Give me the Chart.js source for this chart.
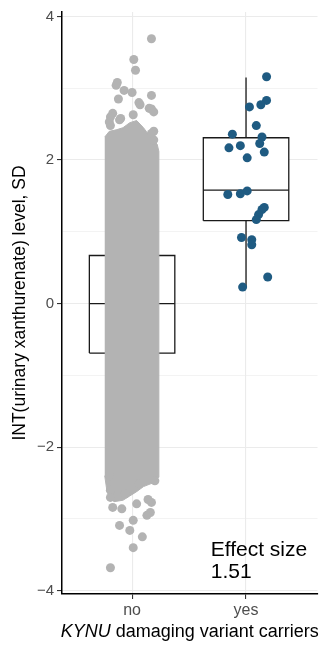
<!DOCTYPE html>
<html>
<head>
<meta charset="utf-8">
<script src="https://cdn.jsdelivr.net/npm/chart.js@4.4.1/dist/chart.umd.min.js"></script>
<style>
  html, body { margin: 0; padding: 0; background: #fff; }
  #wrap { width: 322px; height: 645px; }
</style>
</head>
<body>
<div id="wrap"><canvas id="chart" width="322" height="645"></canvas></div>
<script>
const groups = ['no', 'yes'];
const yTicks = [-4, -3, -2, -1, 0, 1, 2, 3, 4];

// box stats, one entry per group
const q1 = [-0.69, 1.155];
const medians = [0.0, 1.58];
const q3 = [0.67, 2.31];
const whiskerLow = [-2.55, 0.23];
const whiskerHigh = [2.50, 3.15];

// carriers: value + horizontal jitter
const yesValues = [3.16, 2.83, 2.77, 2.74, 2.48, 2.36, 2.32, 2.23, 2.17, 2.20, 2.11, 2.03,
  1.52, 1.53, 1.57, 1.34, 1.31, 1.24, 1.17, 0.92, 0.89, 0.82, 0.37, 0.23];
const yesJitter = [0.18, 0.18, 0.13, 0.03, 0.09, -0.12, 0.14, 0.12, -0.15, -0.05, 0.16, 0.01,
  -0.16, -0.05, 0.01, 0.16, 0.14, 0.11, 0.09, -0.04, 0.05, 0.05, 0.19, -0.03];

// non carriers: the loose points above and below the dense cloud
const noValues = [3.69, 3.40, 3.25, 3.08, 3.04, 2.97, 2.94, 2.90, 2.85, 2.80, 2.77, 2.72,
  2.71, 2.67, 2.65, 2.63, 2.60, 2.58, 2.56, 2.53, 2.48, 2.40, 2.37, 2.28,
  -2.40, -2.47, -2.51, -2.60, -2.65, -2.70, -2.73, -2.77, -2.79, -2.84, -2.86, -2.91,
  -2.95, -3.02, -3.09, -3.16, -3.25, -3.40, -3.68];
const noJitter = [0.17, 0.015, 0.03, -0.13, -0.14, -0.07, 0.0, 0.17, -0.12, 0.06, 0.07, 0.15,
  0.17, 0.19, -0.17, 0.01, -0.19, -0.10, -0.11, -0.20, -0.19, 0.19, 0.17, 0.19,
  -0.20, 0.20, 0.06, -0.19, -0.06, -0.19, 0.14, 0.17, 0.04, -0.17, -0.09, 0.16,
  0.13, 0.01, -0.11, -0.02, 0.09, 0.01, -0.19];

// outline of the solid part of the "no" cloud
const cloudJitter = [-0.24, -0.22, -0.16, -0.08, -0.02, 0.04, 0.10, 0.18, 0.235, 0.235, 0.22,
  0.17, 0.10, 0.04, -0.02, -0.08, -0.14, -0.20, -0.24];
const cloudValues = [-2.40, -2.62, -2.76, -2.74, -2.68, -2.62, -2.55, -2.50, -2.42, 2.12, 2.22,
  2.30, 2.45, 2.55, 2.52, 2.45, 2.42, 2.40, 2.32];

const effectSize = 1.51;

const family = "'Liberation Sans', Arial, sans-serif";
Chart.defaults.font.family = family;

const grey = '#b3b3b3';
const blue = '#1f5b82';
const boxHalf = 0.375;

const datasets = [];

datasets.push({
  data: yesValues.map((v, i) => ({ x: 2 + yesJitter[i], y: v })),
  backgroundColor: blue, pointRadius: 4.5, borderWidth: 0, order: 0
});
datasets.push({
  data: noValues.map((v, i) => ({ x: 1 + noJitter[i], y: v })),
  backgroundColor: grey, pointRadius: 4.5, borderWidth: 0, order: 0
});
datasets.push({
  data: cloudValues.map((v, i) => ({ x: 1 + cloudJitter[i], y: v })),
  showLine: true, fill: 'shape', backgroundColor: grey, borderColor: grey,
  borderWidth: 1, pointRadius: 0, order: 1
});

groups.forEach((g, i) => {
  const x = i + 1;
  const line = { showLine: true, borderColor: '#1a1a1a', borderWidth: 1.3, pointRadius: 0, order: 2 };
  datasets.push(Object.assign({}, line, {
    data: [{ x: x - boxHalf, y: q1[i] }, { x: x + boxHalf, y: q1[i] }, { x: x + boxHalf, y: q3[i] },
      { x: x - boxHalf, y: q3[i] }, { x: x - boxHalf, y: q1[i] }],
    fill: 'shape', backgroundColor: '#fff', order: 3
  }));
  datasets.push(Object.assign({}, line, { data: [{ x: x - boxHalf, y: medians[i] }, { x: x + boxHalf, y: medians[i] }] }));
  datasets.push(Object.assign({}, line, { data: [{ x: x, y: q3[i] }, { x: x, y: whiskerHigh[i] }] }));
  datasets.push(Object.assign({}, line, { data: [{ x: x, y: q1[i] }, { x: x, y: whiskerLow[i] }] }));
});

const extraText = {
  id: 'extraText',
  afterDraw(chart) {
    const { ctx, chartArea, scales } = chart;
    ctx.save();
    ctx.fillStyle = '#000';
    ctx.textBaseline = 'alphabetic';
    ctx.textAlign = 'left';
    // x title, gene name in italics
    const gene = 'KYNU', rest = ' damaging variant carriers';
    ctx.font = 'italic 18px ' + family;
    const w1 = ctx.measureText(gene).width;
    ctx.font = '18px ' + family;
    const w2 = ctx.measureText(rest).width;
    let x = (chartArea.left + chartArea.right) / 2 - (w1 + w2) / 2;
    ctx.font = 'italic 18px ' + family;
    ctx.fillText(gene, x, 637);
    ctx.font = '18px ' + family;
    ctx.fillText(rest, x + w1, 637);
    // effect size note
    ctx.font = '21px ' + family;
    const ex = scales.x.getPixelForValue(1.69);
    ctx.fillText('Effect size', ex, scales.y.getPixelForValue(-3.52));
    ctx.fillText(effectSize.toFixed(2), ex, scales.y.getPixelForValue(-3.83));
    ctx.restore();
  }
};

new Chart(document.getElementById('chart'), {
  type: 'scatter',
  data: { datasets },
  plugins: [extraText],
  options: {
    responsive: false,
    animation: false,
    events: [],
    layout: { padding: { top: 10, left: 0, right: 0, bottom: 0 } },
    plugins: { legend: { display: false }, tooltip: { enabled: false } },
    scales: {
      x: {
        type: 'linear', min: 0.385, max: 2.627,
        afterBuildTicks: s => { s.ticks = groups.map((g, i) => ({ value: i + 1 })); },
        afterFit: s => { s.height = 51; },
        border: { color: '#000', width: 1.5 },
        grid: { color: '#ebebeb', lineWidth: 1.1, tickColor: '#333', tickLength: 5 },
        ticks: { callback: v => groups[v - 1], color: '#4d4d4d', font: { size: 16 }, padding: 2, maxRotation: 0, autoSkip: false }
      },
      y: {
        min: -4.046, max: 4.062,
        afterBuildTicks: s => { s.ticks = yTicks.map(v => ({ value: v })); },
        afterFit: s => { s.width = 62; },
        border: { color: '#000', width: 1.5 },
        grid: {
          color: '#ebebeb',
          lineWidth: c => (c.tick && c.tick.value % 2 ? 0.6 : 1.1),
          tickColor: c => (c.tick && c.tick.value % 2 ? 'rgba(0,0,0,0)' : '#333'),
          tickLength: 5
        },
        ticks: {
          callback: v => (v % 2 ? '' : String(v).replace('-', '\u2212')),
          color: '#4d4d4d', font: { size: 15 }, padding: 3, autoSkip: false
        },
        title: {
          display: true, text: 'INT(urinary xanthurenate) level, SD', color: '#000',
          font: { size: 17.5 }, padding: { top: 10, bottom: 0 }
        }
      }
    }
  }
});
</script>
</body>
</html>
